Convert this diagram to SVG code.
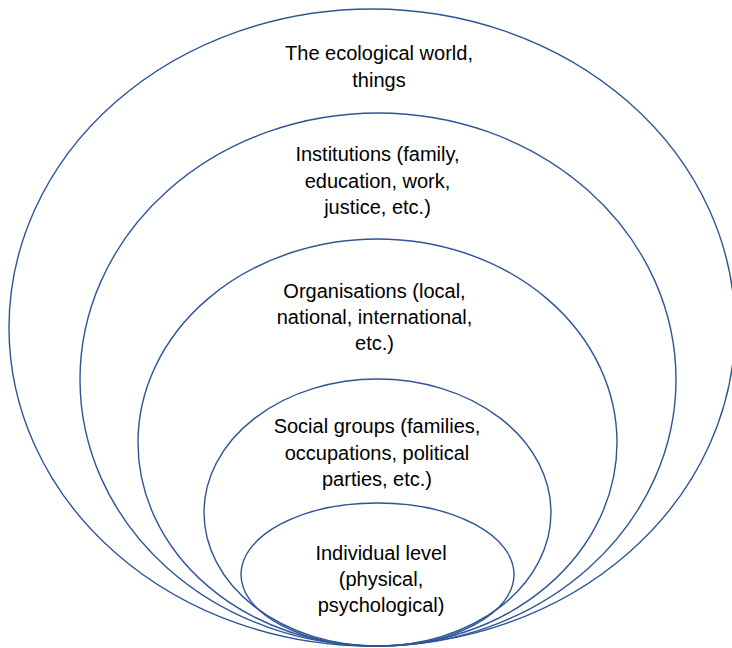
<svg xmlns="http://www.w3.org/2000/svg" width="732" height="648" viewBox="0 0 732 648">
<style>
.ring{fill:none;stroke:#2F5597;stroke-width:1.4}
.lbl{font-family:"Liberation Sans",Arial,sans-serif;font-size:20px;fill:#000;text-anchor:middle}
</style>
<rect width="732" height="648" fill="#fff"/>
<g id="ecological">
<ellipse class="ring" cx="372" cy="327.5" rx="363" ry="318.5"/>
<text class="lbl" x="379" y="60">The ecological world,</text>
<text class="lbl" x="379" y="87">things</text>
</g>
<g id="institutions">
<ellipse class="ring" cx="378" cy="379.5" rx="298" ry="266.5"/>
<text class="lbl" x="377.5" y="161">Institutions (family,</text>
<text class="lbl" x="377.5" y="188">education, work,</text>
<text class="lbl" x="377.5" y="214">justice, etc.)</text>
</g>
<g id="organisations">
<ellipse class="ring" cx="377.5" cy="442.5" rx="239.5" ry="203.5"/>
<text class="lbl" x="374.5" y="298">Organisations (local,</text>
<text class="lbl" x="374.5" y="324">national, international,</text>
<text class="lbl" x="374.5" y="350">etc.)</text>
</g>
<g id="social-groups">
<ellipse class="ring" cx="377.5" cy="512.5" rx="173.5" ry="133.5"/>
<text class="lbl" x="377" y="433">Social groups (families,</text>
<text class="lbl" x="377" y="460">occupations, political</text>
<text class="lbl" x="377" y="486">parties, etc.)</text>
</g>
<g id="individual">
<ellipse class="ring" cx="377.5" cy="574.5" rx="136.5" ry="71.5"/>
<text class="lbl" x="381" y="560">Individual level</text>
<text class="lbl" x="381" y="586">(physical,</text>
<text class="lbl" x="381" y="612">psychological)</text>
</g>
</svg>
